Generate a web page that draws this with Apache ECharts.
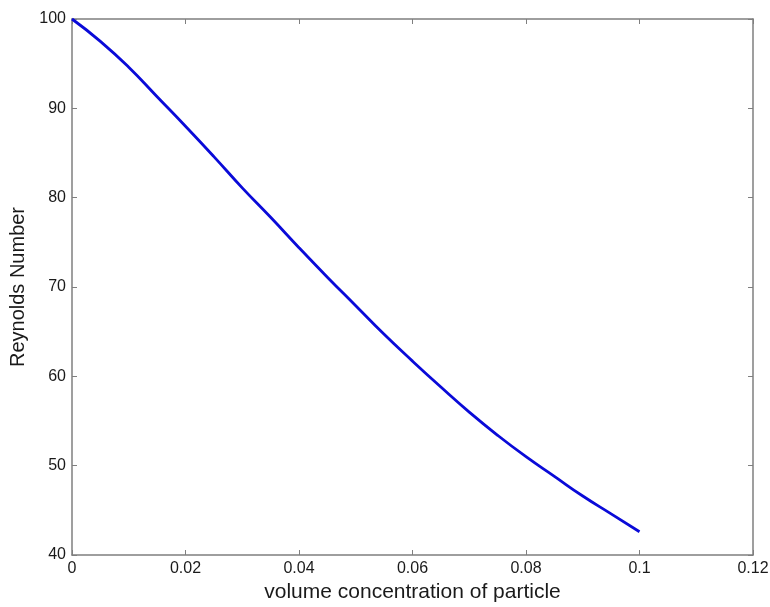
<!DOCTYPE html>
<html>
<head>
<meta charset="utf-8">
<script src="https://cdn.jsdelivr.net/npm/echarts@6/dist/echarts.min.js"></script>
<style>
  html, body { margin: 0; padding: 0; background: #fff; }
  #chart { width: 770px; height: 607px; }
</style>
</head>
<body>
<div id="chart"></div>
<script>
// volume concentration (x) and Reynolds number (y)
const concentration = [0, 0.005, 0.01, 0.015, 0.02, 0.025, 0.03, 0.035, 0.04, 0.045, 0.05,
  0.055, 0.06, 0.065, 0.07, 0.075, 0.08, 0.085, 0.09, 0.095, 0.1]
const reynolds = [100, 97.5, 94.6, 91.3, 88.0, 84.6, 81.1, 77.8, 74.4, 71.1, 67.9,
  64.7, 61.7, 58.8, 56.0, 53.4, 51.0, 48.8, 46.6, 44.6, 42.6]

const xTicks = [0, 0.02, 0.04, 0.06, 0.08, 0.1, 0.12]
const yTicks = [40, 50, 60, 70, 80, 90, 100]

const axisGray = '#7f7f7f'
const textColor = '#1a1a1a'
const font = 'Liberation Sans, Arial, Helvetica, sans-serif'

const chart = echarts.init(document.getElementById('chart'))

const baseAxis = {
  type: 'value',
  axisLine: { show: true, onZero: false, lineStyle: { color: axisGray, width: 1.5 } },
  axisTick: { show: true, inside: true, length: 5, lineStyle: { color: axisGray, width: 1 } },
  splitLine: { show: false }
}

chart.setOption({
  animation: false,
  grid: { left: 72, right: 17, top: 19, bottom: 52, outerBoundsMode: 'none' },
  xAxis: [
    {
      ...baseAxis,
      position: 'bottom',
      min: xTicks[0],
      max: xTicks[xTicks.length - 1],
      interval: 0.02,
      name: 'volume concentration of particle',
      nameLocation: 'middle',
      nameGap: 26,
      nameTextStyle: { fontFamily: font, fontSize: 21, color: textColor },
      axisLabel: {
        margin: 6, fontFamily: font, fontSize: 16, color: textColor,
        formatter: v => String(+v.toFixed(2))
      }
    },
    {
      ...baseAxis,
      position: 'top',
      min: xTicks[0],
      max: xTicks[xTicks.length - 1],
      interval: 0.02,
      axisLabel: { show: false }
    }
  ],
  yAxis: [
    {
      ...baseAxis,
      position: 'left',
      min: yTicks[0],
      max: yTicks[yTicks.length - 1],
      interval: 10,
      name: 'Reynolds Number',
      nameLocation: 'middle',
      nameGap: 36,
      nameTextStyle: { fontFamily: font, fontSize: 20, color: textColor },
      axisLabel: { margin: 6, fontFamily: font, fontSize: 16, color: textColor }
    },
    {
      ...baseAxis,
      position: 'right',
      min: yTicks[0],
      max: yTicks[yTicks.length - 1],
      interval: 10,
      axisLabel: { show: false }
    }
  ],
  series: [{
    type: 'line',
    data: concentration.map((x, i) => [x, reynolds[i]]),
    smooth: 0.5,
    showSymbol: false,
    lineStyle: { color: '#0a0ad8', width: 2.8 }
  }]
})
</script>
</body>
</html>
